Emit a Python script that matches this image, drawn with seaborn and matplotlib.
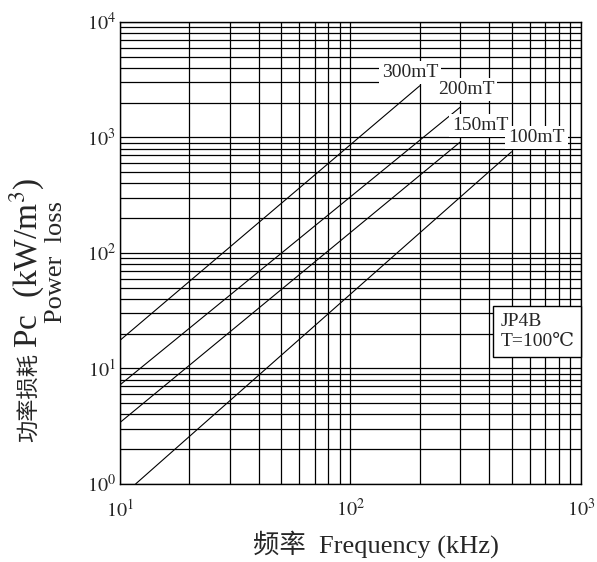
import pandas as pd
import seaborn as sns
import matplotlib.pyplot as plt
from matplotlib.ticker import FixedLocator, FixedFormatter, LogLocator, NullFormatter

# flux density curves (start / end points, log-log straight lines)
labels = ["300mT", "200mT", "150mT", "100mT"]
freq_start = [10, 10, 10, 11.7]
freq_end = [200, 300, 300, 500]
pc_start = [17.5, 7.2, 3.4, 1.0]
pc_end = [2800, 1830, 915, 750]

x_ticks = [10, 100, 1000]
x_ticklabels = ["$10^{1}$", "$10^{2}$", "$10^{3}$"]
y_ticks = [1, 10, 100, 1000, 10000]
y_ticklabels = ["$10^{0}$", "$10^{1}$", "$10^{2}$", "$10^{3}$", "$10^{4}$"]

rows = []
for i, lab in enumerate(labels):
    rows.append({"B": lab, "f": freq_start[i], "Pc": pc_start[i]})
    rows.append({"B": lab, "f": freq_end[i], "Pc": pc_end[i]})
df = pd.DataFrame(rows)

sns.set_style("white")
plt.rcParams['font.family'] = ['Liberation Serif', 'DejaVu Serif', 'Noto Sans CJK SC']
plt.rcParams['mathtext.fontset'] = 'stix'

W, H = 597, 562
fig = plt.figure(figsize=(W / 100, H / 100), dpi=100)
ax = fig.add_axes([0.201, 0.139, 0.772, 0.822])

sns.lineplot(data=df, x="f", y="Pc", units="B", estimator=None, sort=False,
             color="black", linewidth=0.8, ax=ax)

ax.set_xscale("log")
ax.set_yscale("log")
ax.set_xlim(10, 1000)
ax.set_ylim(1, 10000)

ax.xaxis.set_major_locator(FixedLocator(x_ticks))
ax.xaxis.set_major_formatter(FixedFormatter(x_ticklabels))
ax.yaxis.set_major_locator(FixedLocator(y_ticks))
ax.yaxis.set_major_formatter(FixedFormatter(y_ticklabels))
ax.xaxis.set_minor_locator(LogLocator(base=10, subs=range(2, 10)))
ax.yaxis.set_minor_locator(LogLocator(base=10, subs=range(2, 10)))
ax.xaxis.set_minor_formatter(NullFormatter())
ax.yaxis.set_minor_formatter(NullFormatter())

ax.grid(which="both", color="black", linewidth=0.9)
ax.tick_params(which="both", length=0, labelsize=14.5)
ax.tick_params(axis="x", pad=11)
ax.tick_params(axis="y", pad=3)
for s in ax.spines.values():
    s.set_color("black")
    s.set_linewidth(1.0)

# curve labels
label_pos = {"300mT": (181, 3650), "200mT": (317, 2580),
             "150mT": (365, 1270), "100mT": (641, 1000)}
for lab, (xx, yy) in label_pos.items():
    ax.text(xx, yy, lab, fontsize=14, ha="center", va="center",
            bbox=dict(boxstyle="square,pad=0.15", fc="white", ec="none"))

ax.text(0.825, 0.33, "JP4B\nT=100℃", transform=ax.transAxes, fontsize=14,
        ha="left", va="center", linespacing=1.2,
        bbox=dict(boxstyle="square,pad=0.35", fc="white", ec="black", lw=1))

ax.set_xlabel("频率  Frequency (kHz)", fontsize=19)
ax.xaxis.set_label_coords(0.556, -0.1)
ax.set_ylabel("")

# y label: the Chinese part is smaller than the latin part in the original
fig.text(30 / W, 1 - 397 / H, "功率损耗", fontsize=16, rotation=90,
         ha="center", va="center")
fig.text(27 / W, 1 - 348 / H, "Pc  (kW/m$^3$)", fontsize=24, rotation=90,
         ha="center", va="bottom")
fig.text(56 / W, 1 - 262 / H, "Power  loss", fontsize=19, rotation=90,
         ha="center", va="center")

plt.savefig("out.png", dpi=100)
